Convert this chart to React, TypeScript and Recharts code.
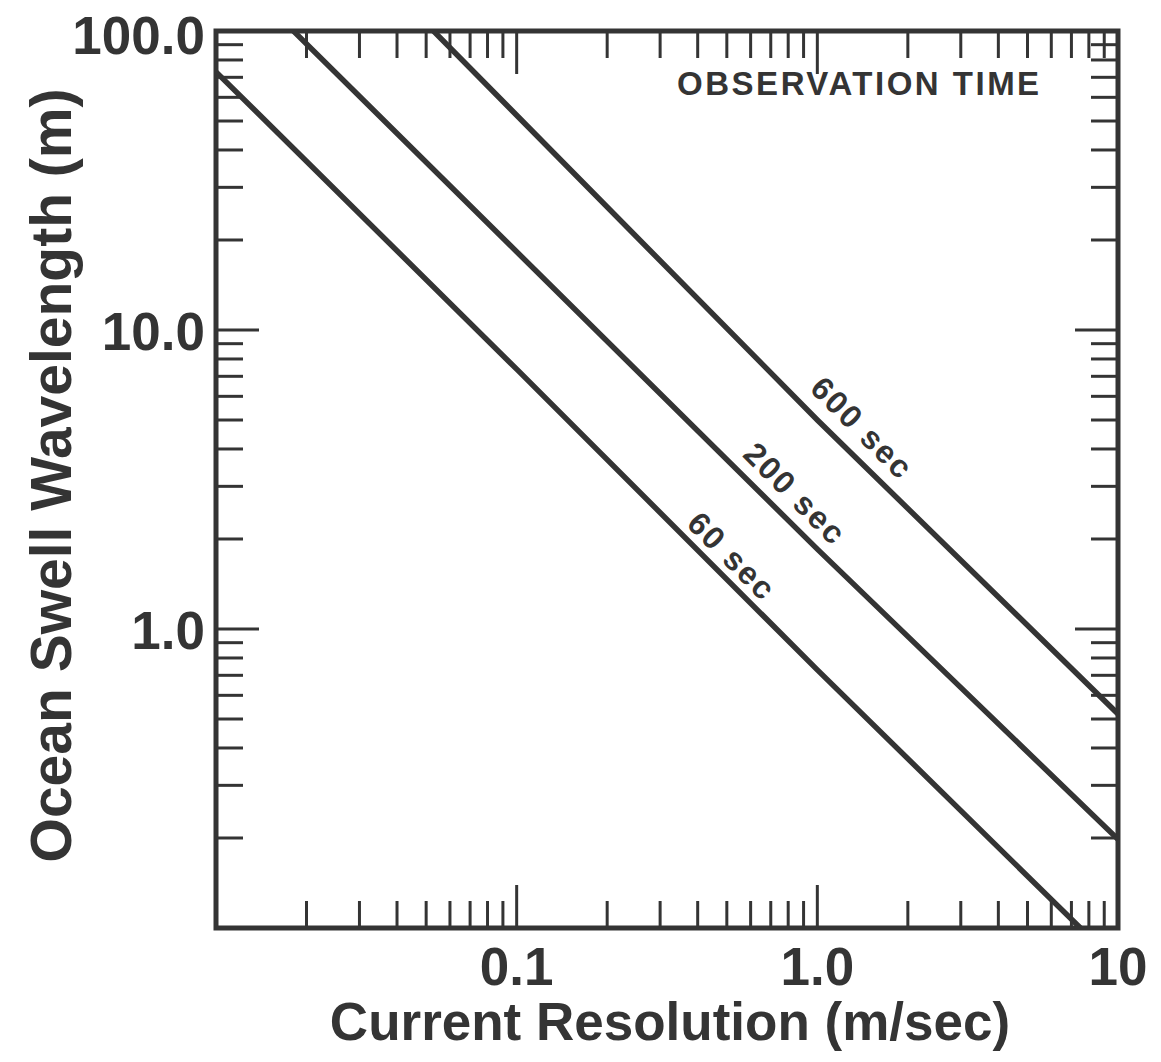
import React from 'react';
import { LineChart, Line, XAxis, YAxis, ReferenceArea, ReferenceDot, Label } from 'recharts';

const INK = '#343434';
const FONT = "'Liberation Sans', Arial, Helvetica, sans-serif";

// Tick positions
const xTicks = [0.01, 0.02, 0.03, 0.04, 0.05, 0.06, 0.07, 0.08, 0.09, 0.1, 0.2, 0.3, 0.4, 0.5, 0.6, 0.7, 0.8, 0.9, 1, 2, 3, 4, 5, 6, 7, 8, 9, 10];
const yTicks = [0.1, 0.2, 0.3, 0.4, 0.5, 0.6, 0.7, 0.8, 0.9, 1, 2, 3, 4, 5, 6, 7, 8, 9, 10, 20, 30, 40, 50, 60, 70, 80, 90, 100];
const xLabelValues = [0.1, 1, 10];
const xLabelTexts = ['0.1', '1.0', '10'];
const yLabelValues = [1, 10, 100];
const yLabelTexts = ['1.0', '10.0', '100.0'];

// Series: current resolution (m/sec) vs ocean swell wavelength (m)
const speeds60 = [0.01, 0.1, 1, 7.5];
const lengths60 = [73, 7.4, 0.73, 0.1];
const speeds200 = [0.0181, 1, 10];
const lengths200 = [100, 1.85, 0.198];
const speeds600 = [0.0529, 1, 10];
const lengths600 = [100, 5.0, 0.52];

// Label anchors (data coordinates)
const seriesNames = ['60 sec', '200 sec', '600 sec'];
const labelSpeeds = [0.52, 0.844, 1.41];
const labelLengths = [1.75, 2.83, 4.7];

const toData = (xs: number[], ys: number[]) => xs.map((v, i) => ({ v, l: ys[i] }));
const d60 = toData(speeds60, lengths60);
const d200 = toData(speeds200, lengths200);
const d600 = toData(speeds600, lengths600);

const near = (a: number, b: number) => Math.abs(a - b) < 1e-9;
const isMajor = (v: number) => {
  const lg = Math.log10(v);
  return Math.abs(lg - Math.round(lg)) < 1e-6;
};
const MAJ = 43;
const MIN = 27;
const TW = 3;

const BottomTick = (p: any) => {
  const { x, y, payload } = p;
  const v = payload.value;
  const len = isMajor(v) ? MAJ : MIN;
  const idx = xLabelValues.findIndex((t) => near(t, v));
  return (
    <g>
      <line x1={x} x2={x} y1={y} y2={y - len} stroke={INK} strokeWidth={TW} />
      {idx >= 0 && (
        <text x={x} y={y + 57} textAnchor="middle" fontSize={53} fontWeight="bold" fontFamily={FONT} fill={INK}>
          {xLabelTexts[idx]}
        </text>
      )}
    </g>
  );
};

const TopTick = (p: any) => {
  const { x, y, payload } = p;
  const len = isMajor(payload.value) ? MAJ : MIN;
  return <line x1={x} x2={x} y1={y} y2={y + len} stroke={INK} strokeWidth={TW} />;
};

const LeftTick = (p: any) => {
  const { x, y, payload } = p;
  const v = payload.value;
  const len = isMajor(v) ? MAJ : MIN;
  const idx = yLabelValues.findIndex((t) => near(t, v));
  const extra = idx === 2 ? 4 : 1;
  return (
    <g>
      <line x1={x} x2={x + len} y1={y} y2={y} stroke={INK} strokeWidth={TW} />
      {idx >= 0 && (
        <text x={x - 11} y={y + extra} dy="0.36em" textAnchor="end" fontSize={53} fontWeight="bold" fontFamily={FONT} fill={INK}>
          {yLabelTexts[idx]}
        </text>
      )}
    </g>
  );
};

const RightTick = (p: any) => {
  const { x, y, payload } = p;
  const len = isMajor(payload.value) ? MAJ : MIN;
  return <line x1={x} x2={x - len} y1={y} y2={y} stroke={INK} strokeWidth={TW} />;
};

const XTitle = (p: any) => {
  const vb = p.viewBox;
  return (
    <text x={vb.x + vb.width / 2 + 3} y={vb.y + 112} textAnchor="middle" fontSize={53} fontWeight="bold" fontFamily={FONT} fill={INK}>
      Current Resolution (m/sec)
    </text>
  );
};

const YTitle = (p: any) => {
  const vb = p.viewBox;
  const cx = 63;
  const cy = vb.y + vb.height / 2 - 4;
  return (
    <text x={cx} y={cy} transform={`rotate(-90 ${cx} ${cy})`} textAnchor="middle" fontSize={57} fontWeight="bold" fontFamily={FONT} fill={INK}>
      Ocean Swell Wavelength (m)
    </text>
  );
};

const makeTag = (txt: string) => (p: any) => {
  const vb = p.viewBox;
  const x = vb.x + (vb.width || 0) / 2;
  const y = vb.y + (vb.height || 0) / 2;
  return (
    <text x={x} y={y} transform={`rotate(45 ${x} ${y})`} textAnchor="middle" dominantBaseline="central" fontSize={32} fontWeight="bold" letterSpacing={2} fontFamily={FONT} fill={INK}>
      {txt}
    </text>
  );
};

const TitleTag = (p: any) => {
  const vb = p.viewBox;
  const x = vb.x + (vb.width || 0) / 2;
  const y = vb.y + (vb.height || 0) / 2;
  return (
    <text x={x} y={y} textAnchor="middle" fontSize={33} fontWeight="bold" letterSpacing={2.5} fontFamily={FONT} fill={INK}>
      OBSERVATION TIME
    </text>
  );
};

export default function App() {
  return (
    <div style={{ width: 1150, height: 1058, marginTop: -8, background: '#fff' }}>
      <LineChart width={1150} height={1058} margin={{ top: 30, right: 39, bottom: 0, left: 0 }}>
        <XAxis
          xAxisId={0}
          dataKey="v"
          type="number"
          scale="log"
          domain={[0.01, 10]}
          allowDataOverflow
          ticks={xTicks}
          interval={0}
          tickSize={0}
          tickMargin={0}
          axisLine={false}
          tickLine={false}
          tick={<BottomTick />}
          height={130}
        >
          <Label content={<XTitle />} />
        </XAxis>
        <XAxis
          xAxisId="top"
          orientation="top"
          dataKey="v"
          type="number"
          scale="log"
          domain={[0.01, 10]}
          allowDataOverflow
          ticks={xTicks}
          interval={0}
          tickSize={0}
          tickMargin={0}
          axisLine={false}
          tickLine={false}
          tick={<TopTick />}
          height={1}
        />
        <YAxis
          yAxisId={0}
          type="number"
          scale="log"
          domain={[0.1, 100]}
          allowDataOverflow
          ticks={yTicks}
          interval={0}
          tickSize={0}
          tickMargin={0}
          axisLine={false}
          tickLine={false}
          tick={<LeftTick />}
          width={208}
        >
          <Label content={<YTitle />} />
        </YAxis>
        <YAxis
          yAxisId="right"
          orientation="right"
          type="number"
          scale="log"
          domain={[0.1, 100]}
          allowDataOverflow
          ticks={yTicks}
          interval={0}
          tickSize={0}
          tickMargin={0}
          axisLine={false}
          tickLine={false}
          tick={<RightTick />}
          width={1}
        />
        <Line data={d60} dataKey="l" type="linear" stroke={INK} strokeWidth={5.5} dot={false} activeDot={false} isAnimationActive={false} />
        <Line data={d200} dataKey="l" type="linear" stroke={INK} strokeWidth={5.5} dot={false} activeDot={false} isAnimationActive={false} />
        <Line data={d600} dataKey="l" type="linear" stroke={INK} strokeWidth={5.5} dot={false} activeDot={false} isAnimationActive={false} />
        <ReferenceArea x1={0.01} x2={10} y1={0.1} y2={100} fill="none" fillOpacity={0} stroke={INK} strokeWidth={5} ifOverflow="visible" />
        {seriesNames.map((n, i) => (
          <ReferenceDot key={n} x={labelSpeeds[i]} y={labelLengths[i]} r={0.1} fill="none" stroke="none" ifOverflow="visible" label={makeTag(n)} />
        ))}
        <ReferenceDot x={1.38} y={61} r={0.1} fill="none" stroke="none" ifOverflow="visible" label={<TitleTag />} />
      </LineChart>
    </div>
  );
}
